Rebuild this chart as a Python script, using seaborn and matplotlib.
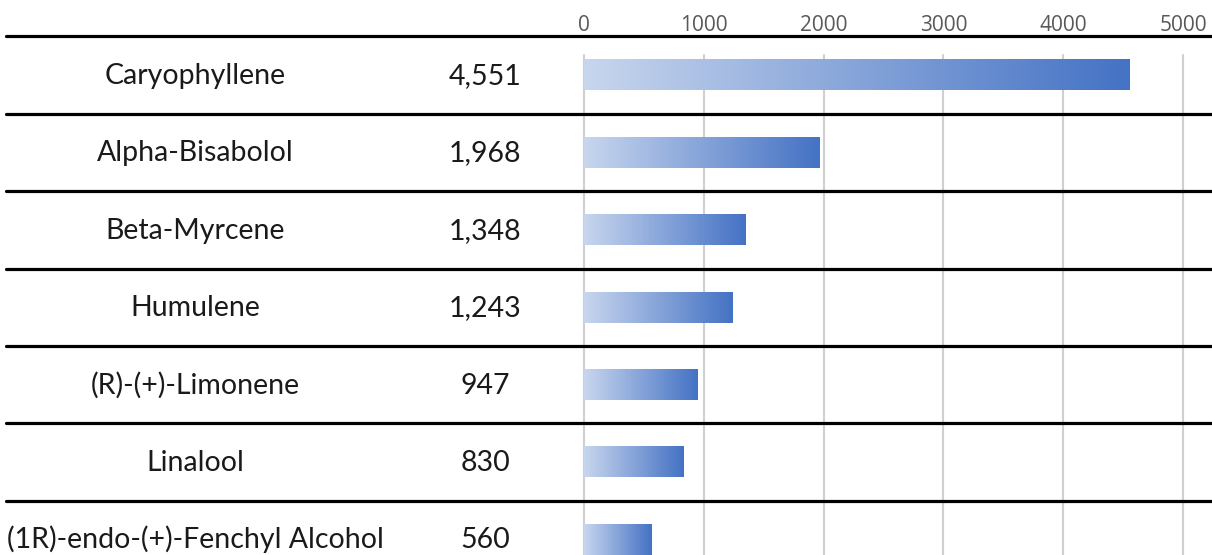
import matplotlib
matplotlib.use("Agg")
import matplotlib.pyplot as plt
import seaborn as sns
import numpy as np
import pandas as pd
from matplotlib.colors import LinearSegmentedColormap

# data
compounds = ["Caryophyllene", "Alpha-Bisabolol", "Beta-Myrcene", "Humulene",
             "(R)-(+)-Limonene", "Linalool", "(1R)-endo-(+)-Fenchyl Alcohol"]
amounts = [4551, 1968, 1348, 1243, 947, 830, 560]
ticks = [0, 1000, 2000, 3000, 4000, 5000]

df = pd.DataFrame({"compound": compounds, "amount": amounts})

sns.set_style("white")
plt.rcParams["font.family"] = ["Lato", "DejaVu Sans"]

W, H = 1212, 555
fig = plt.figure(figsize=(W / 100, H / 100), dpi=100)
x0 = 584
ax = fig.add_axes([x0 / W, 0, (W - x0) / W, 1])

sns.barplot(data=df, y="compound", x="amount", orient="h", width=0.40,
            color="#4472c4", ax=ax)

px_per_unit = 599 / 5000
row = 77.4
xlim = (0, (W - x0) / px_per_unit)
ylim = ((H - 75) / row, -75 / row)

# gradient fill for each bar
cmap = LinearSegmentedColormap.from_list("grad", ["#c8d6ee", "#4472c4"])
grad = np.linspace(0, 1, 256).reshape(1, -1)
for p in ax.patches:
    x, y = p.get_x(), p.get_y()
    w, h = p.get_width(), p.get_height()
    ax.imshow(grad, cmap=cmap, aspect="auto", extent=[x, x + w, y + h, y],
              zorder=3, interpolation="bicubic")
    p.set_visible(False)
ax.set_xlim(*xlim)
ax.set_ylim(*ylim)

# vertical gridlines
for t in ticks:
    ax.plot([t, t], [(55 - 75) / row, ylim[0] + 0.2], color="#d0d0d0",
            lw=1.5, zorder=1, clip_on=False)

# row separators
for i in range(len(compounds)):
    ax.axhline(i - 0.5, xmin=(6 - x0) / (W - x0), xmax=1, color="black",
               lw=2.3, zorder=4, clip_on=False)

# left columns of text
for i, (name, val) in enumerate(zip(compounds, amounts)):
    ax.text((195 - x0) / px_per_unit, i + 9 / row, name, ha="center",
            va="baseline", fontsize=20.5, color="#1a1a1a", clip_on=False)
    ax.text((485 - x0) / px_per_unit, i + 9 / row, f"{val:,}", ha="center",
            va="baseline", fontsize=20.5, color="#1a1a1a", clip_on=False)

# top tick labels
ax.xaxis.tick_top()
ax.set_xticks(ticks)
ax.set_xticklabels([str(t) for t in ticks], fontsize=15, color="#595959",
                   family=["Open Sans", "DejaVu Sans"])
ax.tick_params(axis="x", length=0, pad=-26)
ax.set_yticks([])
ax.set_xlabel("")
ax.set_ylabel("")
for s in ax.spines.values():
    s.set_visible(False)

fig.savefig("out.png", dpi=100)
